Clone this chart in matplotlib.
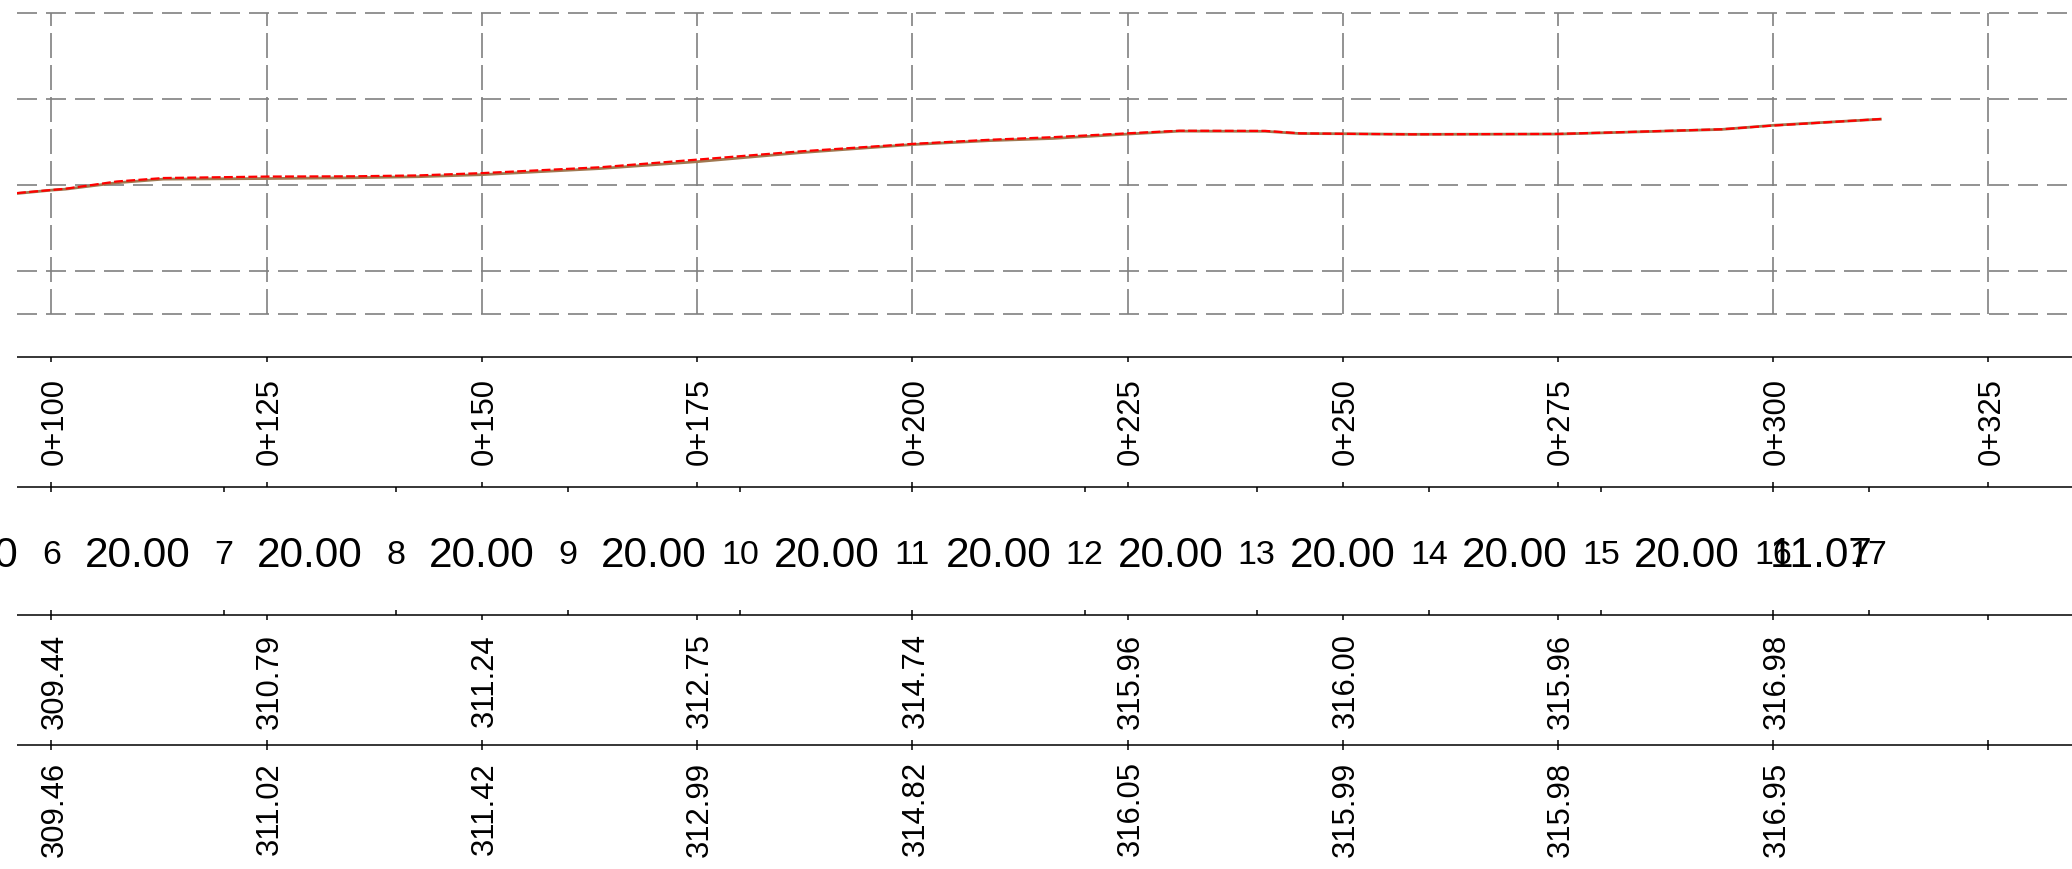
import matplotlib
matplotlib.use('Agg')
import matplotlib.pyplot as plt
import matplotlib.transforms as mtransforms

plt.rcParams['font.family'] = ['Liberation Sans', 'DejaVu Sans']

# chainage ticks and the two rows of levels printed under them
stations = [100, 125, 150, 175, 200, 225, 250, 275, 300, 325]
station_labels = ['0+100', '0+125', '0+150', '0+175', '0+200',
                  '0+225', '0+250', '0+275', '0+300', '0+325']
level_stations = [100, 125, 150, 175, 200, 225, 250, 275, 300]
levels_row1 = ['309.44', '310.79', '311.24', '312.75', '314.74',
               '315.96', '316.00', '315.96', '316.98']
levels_row2 = ['309.46', '311.02', '311.42', '312.99', '314.82',
               '316.05', '315.99', '315.98', '316.95']

# surveyed points and the distances between them
point_ids = ['5', '6', '7', '8', '9', '10', '11', '12', '13', '14', '15', '16', '17']
point_chainage = [80, 100, 120, 140, 160, 180, 200, 220, 240, 260, 280, 300, 311.07]
segment_lengths = ['20.00', '20.00', '20.00', '20.00', '20.00', '20.00',
                   '20.00', '20.00', '20.00', '20.00', '20.00', '11.07']

# longitudinal profile (chainage, elevation)
prof_x = [96.0, 100, 101.6, 107.6, 113, 125, 135, 142.5, 150, 163.7, 175, 187,
          200, 209, 216.3, 225, 231, 241, 245, 250, 258, 275, 283, 294, 300, 312.6]
ground_z = [309.05, 309.44, 309.55, 310.30, 310.72, 310.79, 310.88, 311.00, 311.24,
            311.95, 312.75, 313.80, 314.74, 315.20, 315.45, 315.96, 316.30, 316.28,
            316.02, 316.00, 315.93, 315.96, 316.18, 316.50, 316.98, 317.70]
grade_z = [309.10, 309.46, 309.60, 310.45, 310.85, 311.02, 311.05, 311.15, 311.42,
           312.10, 312.99, 313.95, 314.82, 315.30, 315.60, 316.05, 316.35, 316.33,
           316.05, 315.99, 315.93, 315.98, 316.20, 316.52, 316.95, 317.72]
grid_levels = [330, 320, 310, 300, 295]

W, H = 2072, 869
x_min, x_max = 96.0, 334.7
left = 17 / W

fig = plt.figure(figsize=(W / 100, H / 100), dpi=100)

# --- profile ---
ax = fig.add_axes([left, 1 - 330 / H, 1 - left, 330 / H])
ax.set_xlim(x_min, x_max)
ax.set_ylim(331.55 - 330 / 8.6, 331.55)
ax.axis('off')
for g in grid_levels:
    ax.axhline(g, color='#808080', lw=1.2, linestyle=(0, (12, 5.4)))
ax.vlines(stations, min(grid_levels), max(grid_levels), color='#808080', lw=1.2,
          linestyle=(0, (15, 4.2)))
ax.plot(prof_x, ground_z, color='#a07850', lw=2.0, solid_capstyle='butt')
ax.plot(prof_x, grade_z, color='#ff0000', lw=1.6, linestyle=(0, (4, 1.5)))

# --- bands (y in pixels from top) ---
bx = fig.add_axes([left, 0, 1 - left, (H - 340) / H])
bx.set_xlim(x_min, x_max)
bx.set_ylim(H, 340)
bx.axis('off')
lines_y = [357.3, 486.7, 615.3, 745.0]
for y in lines_y:
    bx.axhline(y, color='black', lw=1.1)
tk = 5
bx.vlines(stations, lines_y[0], lines_y[0] + tk, color='black', lw=1.1)
bx.vlines(stations, lines_y[1] - tk, lines_y[1], color='black', lw=1.1)
bx.vlines(point_chainage, lines_y[1], lines_y[1] + tk, color='black', lw=1.1)
bx.vlines(stations, lines_y[2], lines_y[2] + tk, color='black', lw=1.1)
bx.vlines(point_chainage, lines_y[2] - tk, lines_y[2], color='black', lw=1.1)
bx.vlines(stations, lines_y[3] - tk, lines_y[3] + tk, color='black', lw=1.1)

rot_fs = 22.3
rot_off = mtransforms.offset_copy(bx.transData, fig=fig, x=0.358 * rot_fs * 100 / 72, y=0, units='dots')
rot_kw = dict(rotation=90, rotation_mode='anchor', ha='center', va='baseline',
              fontsize=rot_fs, transform=rot_off)
for s, lab in zip(stations, station_labels):
    bx.text(s, 422, lab, **rot_kw)
for s, lab in zip(level_stations, levels_row1):
    bx.text(s, 681, lab, **rot_kw)
for s, lab in zip(level_stations, levels_row2):
    bx.text(s, 809, lab, **rot_kw)

num_fs = 24.5
dist_fs = 30.5
for c, pid in zip(point_chainage, point_ids):
    bx.text(c, 552 + 0.358 * num_fs * 100 / 72, pid, ha='center', va='baseline', fontsize=num_fs)
for i, lab in enumerate(segment_lengths):
    mid = (point_chainage[i] + point_chainage[i + 1]) / 2
    bx.text(mid, 552 + 0.358 * dist_fs * 100 / 72, lab, ha='center', va='baseline', fontsize=dist_fs)

fig.savefig('out.png', dpi=100, facecolor='white')
